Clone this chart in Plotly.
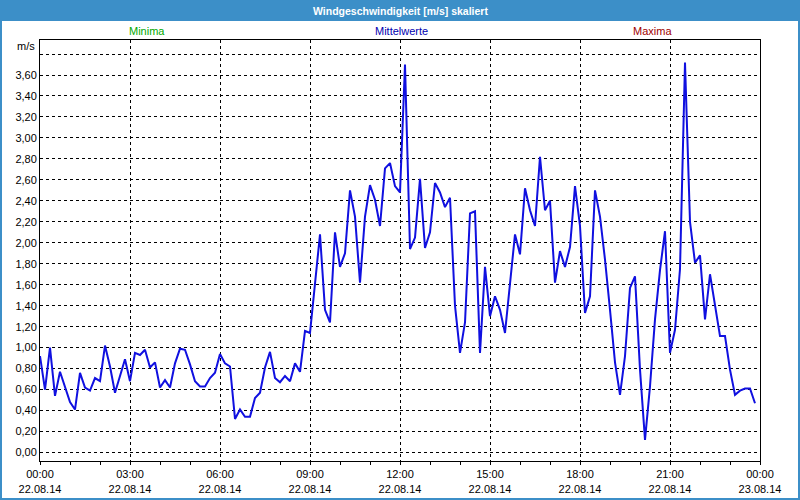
import plotly.graph_objects as go
import pandas as pd

# ---- data (10-minute values, 22.08.14 00:00 .. 23:50) ----
wind_values = [
    0.92, 0.60, 1.00, 0.54, 0.77, 0.63, 0.48, 0.41, 0.76, 0.62, 0.59, 0.71,
    0.68, 1.02, 0.82, 0.57, 0.72, 0.89, 0.68, 0.95, 0.93, 0.98, 0.81, 0.86,
    0.62, 0.69, 0.62, 0.85, 0.99, 0.98, 0.84, 0.68, 0.63, 0.63, 0.71, 0.76,
    0.94, 0.85, 0.82, 0.32, 0.41, 0.34, 0.34, 0.52, 0.57, 0.81, 0.96, 0.71,
    0.67, 0.73, 0.68, 0.85, 0.77, 1.16, 1.14, 1.62, 2.08, 1.36, 1.24, 2.10,
    1.77, 1.90, 2.50, 2.25, 1.62, 2.25, 2.55, 2.41, 2.16, 2.71, 2.76, 2.54,
    2.48, 3.70, 1.94, 2.05, 2.61, 1.95, 2.10, 2.57, 2.48, 2.34, 2.43, 1.40,
    0.95, 1.24, 2.28, 2.30, 0.95, 1.77, 1.30, 1.49, 1.36, 1.14, 1.58, 2.08,
    1.89, 2.52, 2.31, 2.16, 2.82, 2.31, 2.40, 1.62, 1.92, 1.77, 1.96, 2.54,
    2.16, 1.33, 1.49, 2.50, 2.25, 1.84, 1.36, 0.86, 0.55, 0.92, 1.57, 1.68,
    0.79, 0.12, 0.63, 1.27, 1.74, 2.11, 0.95, 1.17, 1.75, 3.72, 2.20, 1.81,
    1.88, 1.27, 1.70, 1.41, 1.11, 1.11, 0.79, 0.55, 0.59, 0.61, 0.61, 0.47,
]
times = pd.date_range("2014-08-22 00:00", periods=len(wind_values), freq="10min")

x_tick_vals = ["2014-08-22 00:00", "2014-08-22 03:00", "2014-08-22 06:00",
               "2014-08-22 09:00", "2014-08-22 12:00", "2014-08-22 15:00",
               "2014-08-22 18:00", "2014-08-22 21:00", "2014-08-23 00:00"]
x_tick_text = ["00:00<br>22.08.14", "03:00<br>22.08.14", "06:00<br>22.08.14",
               "09:00<br>22.08.14", "12:00<br>22.08.14", "15:00<br>22.08.14",
               "18:00<br>22.08.14", "21:00<br>22.08.14", "00:00<br>23.08.14"]
y_tick_vals = [0.0, 0.2, 0.4, 0.6, 0.8, 1.0, 1.2, 1.4, 1.6, 1.8, 2.0,
               2.2, 2.4, 2.6, 2.8, 3.0, 3.2, 3.4, 3.6, 3.8]
y_tick_text = ["0,00", "0,20", "0,40", "0,60", "0,80", "1,00", "1,20",
               "1,40", "1,60", "1,80", "2,00", "2,20", "2,40", "2,60",
               "2,80", "3,00", "3,20", "3,40", "3,60", ""]

title_text = "Windgeschwindigkeit [m/s] skaliert"
header_labels = ["Minima", "Mittelwerte", "Maxima"]
header_colors = ["#00a800", "#0000b0", "#a00000"]
header_px = [147, 401, 652]

# ---- geometry (pixels) ----
W, H = 800, 500
L, R, T, B = 40, 760, 40, 461
PW, PH = R - L, B - T


def px(x):
    return (x - L) / PW


def py(y):
    return (B - y) / PH


FONT = "Liberation Sans, Arial, sans-serif"
BLUE = "#3c8fc8"

fig = go.Figure()
fig.add_trace(go.Scatter(
    x=times, y=wind_values, mode="lines",
    line=dict(color="#1010e0", width=2),
    hoverinfo="skip", showlegend=False,
))

shapes = [
    dict(type="rect", xref="paper", yref="paper",
         x0=px(0), x1=px(800), y0=py(21), y1=py(0),
         fillcolor=BLUE, line=dict(width=0), layer="above"),
    dict(type="rect", xref="paper", yref="paper",
         x0=px(1), x1=px(799), y0=py(499), y1=py(1),
         fillcolor="rgba(0,0,0,0)", line=dict(color=BLUE, width=2), layer="above"),
]

annotations = [
    dict(text="<b>" + title_text + "</b>", xref="paper", yref="paper",
         x=px(400), y=py(10.5), xanchor="center", yanchor="middle",
         showarrow=False, font=dict(family=FONT, size=10.5, color="white")),
    dict(text="m/s", xref="paper", yref="paper", x=px(37), y=py(46),
         xanchor="right", yanchor="middle", showarrow=False,
         font=dict(family=FONT, size=11, color="black")),
]
for lab, col, xp in zip(header_labels, header_colors, header_px):
    annotations.append(dict(text=lab, xref="paper", yref="paper",
                            x=px(xp), y=py(31), xanchor="center", yanchor="middle",
                            showarrow=False,
                            font=dict(family=FONT, size=11, color=col)))

y0_px, y36_px = 452.5, 75.0
per = (y0_px - y36_px) / 3.6
y_lo = (y0_px - B) / per
y_hi = (y0_px - T) / per

fig.update_layout(
    width=W, height=H,
    margin=dict(l=L, r=W - R, t=T, b=H - B, autoexpand=False),
    paper_bgcolor="white", plot_bgcolor="white",
    font=dict(family=FONT, size=11, color="black"),
    shapes=shapes, annotations=annotations,
    xaxis=dict(
        range=["2014-08-22 00:00", "2014-08-23 00:00"],
        tickvals=x_tick_vals, ticktext=x_tick_text,
        showgrid=True, gridcolor="black", gridwidth=1, griddash="3px,3px",
        showline=True, linecolor="black", linewidth=1, mirror=True,
        ticks="outside", ticklen=3, tickcolor="black",
        minor=dict(dtick=3600000, ticks="outside", ticklen=3,
                   tickcolor="black", showgrid=False),
        zeroline=False, fixedrange=True, automargin=False,
    ),
    yaxis=dict(
        range=[y_lo, y_hi],
        tickvals=y_tick_vals, ticktext=y_tick_text,
        showgrid=True, gridcolor="black", gridwidth=1, griddash="3px,3px",
        showline=True, linecolor="black", linewidth=1, mirror=True,
        ticks="", zeroline=False, fixedrange=True, automargin=False,
    ),
)

fig.write_html(
    "out.html",
    config={"displayModeBar": False},
    post_script="document.body.style.margin='0px';document.body.style.overflow='hidden';",
)
